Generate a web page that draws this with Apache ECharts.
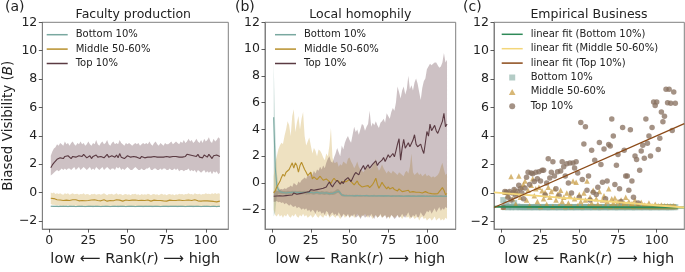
<!DOCTYPE html>
<html><head><meta charset="utf-8">
<script src="https://cdn.jsdelivr.net/npm/echarts@6.0.0/dist/echarts.min.js"></script>
<style>html,body{margin:0;padding:0;background:#fff}#c{width:685px;height:272px}</style>
</head><body><div id="c"></div>
<script>
const FONT = 'DejaVu Sans';
const xTicks = [0, 25, 50, 75, 100];
const yTicks = [-2, 0, 2, 4, 6, 8, 10, 12];
const panelTitles = ['Faculty production', 'Local homophily', 'Empirical Business'];
const panelTags = ['(a)', '(b)', '(c)'];
const groupLabels = ['Bottom 10%', 'Middle 50-60%', 'Top 10%'];
const fitLabels = ['linear fit (Bottom 10%)', 'linear fit (Middle 50-60%)', 'linear fit (Top 10%)'];

// ---------- Panel (a) Faculty production: ranks 1..109 ----------
const topMeanA = [1.75,1.95,2.1,2.2,2.35,2.3,2.45,2.5,2.4,2.55,
2.45,2.6,2.5,2.4,2.55,2.65,2.5,2.45,2.6,2.5,
2.55,2.7,2.6,2.45,2.5,2.6,2.4,2.55,2.5,2.65,
2.5,2.4,2.55,2.6,2.45,2.5,2.7,2.5,2.45,2.6,
2.55,2.5,2.65,2.45,2.75,2.5,2.55,2.4,2.5,2.6,
2.55,2.5,2.45,2.55,2.6,2.5,2.5,2.4,2.55,2.5,
2.45,2.55,2.5,2.6,2.5,2.45,2.55,2.6,2.5,2.45,
2.5,2.55,2.5,2.6,2.55,2.45,2.5,2.6,2.55,2.5,
2.55,2.6,2.5,2.55,2.5,2.6,2.55,2.7,2.75,2.65,
2.7,2.6,2.65,2.55,2.7,2.5,2.6,2.45,2.65,2.55,
2.5,2.7,2.55,2.4,2.6,2.5,2.65,2.6,2.55];
const topHiA = [2.6,2.9,3.1,3.2,3.4,3.3,3.5,3.4,3.3,3.6,
3.4,3.5,3.3,3.5,3.6,3.4,3.3,3.5,3.4,3.6,
3.4,3.5,3.3,3.4,3.6,3.4,3.3,3.5,3.4,3.7,
3.4,3.3,3.5,3.6,3.4,3.5,3.7,3.4,3.3,3.5,
3.6,3.4,3.5,3.4,3.7,3.5,3.4,3.3,3.5,3.4,
3.5,3.4,3.3,3.4,3.5,3.4,3.5,3.3,3.4,3.5,
3.4,3.5,3.4,3.6,3.4,3.3,3.5,3.6,3.4,3.3,
3.5,3.4,3.3,3.5,3.4,3.4,3.5,3.6,3.4,3.5,
3.6,3.5,3.4,3.6,3.5,3.7,3.5,3.6,3.8,3.6,
3.7,3.5,3.6,3.8,3.6,3.5,3.7,3.5,3.8,3.6,
3.7,3.9,3.6,3.5,3.8,3.6,3.7,3.9,3.8];
const topLoA = [1.2,1.3,1.4,1.5,1.6,1.5,1.6,1.7,1.6,1.7,
1.6,1.7,1.7,1.6,1.7,1.8,1.6,1.7,1.8,1.6,
1.7,1.8,1.7,1.6,1.7,1.8,1.6,1.7,1.6,1.8,
1.7,1.6,1.7,1.8,1.6,1.7,1.8,1.7,1.6,1.7,
1.7,1.6,1.8,1.7,1.8,1.6,1.7,1.6,1.7,1.8,
1.7,1.6,1.6,1.7,1.8,1.7,1.6,1.6,1.7,1.6,
1.6,1.7,1.7,1.8,1.6,1.6,1.7,1.7,1.6,1.6,
1.7,1.6,1.7,1.7,1.6,1.6,1.7,1.6,1.6,1.7,
1.6,1.7,1.5,1.6,1.6,1.5,1.6,1.6,1.7,1.5,
1.6,1.5,1.6,1.4,1.6,1.5,1.4,1.5,1.6,1.4,
1.5,1.4,1.5,1.3,1.5,1.4,1.5,1.3,1.4];
const midMeanA = [-0.4,-0.45,-0.42,-0.48,-0.5,-0.47,-0.52,-0.5,-0.55,-0.5,
-0.53,-0.48,-0.55,-0.52,-0.5,-0.56,-0.5,-0.54,-0.58,-0.52,
-0.55,-0.5,-0.57,-0.53,-0.55,-0.6,-0.52,-0.55,-0.5,-0.57,
-0.55,-0.52,-0.58,-0.55,-0.5,-0.56,-0.6,-0.53,-0.55,-0.52,
-0.57,-0.55,-0.5,-0.58,-0.53,-0.56,-0.6,-0.55,-0.52,-0.57,
-0.55,-0.6,-0.53,-0.56,-0.52,-0.58,-0.55,-0.6,-0.54,-0.57,
-0.55,-0.58,-0.52,-0.56,-0.6,-0.55,-0.53,-0.58,-0.56,-0.6,
-0.55,-0.52,-0.58,-0.55,-0.6,-0.56,-0.53,-0.57,-0.55,-0.6,
-0.56,-0.58,-0.52,-0.57,-0.55,-0.6,-0.54,-0.56,-0.52,-0.58,
-0.55,-0.6,-0.5,-0.56,-0.58,-0.53,-0.6,-0.55,-0.57,-0.52,
-0.58,-0.55,-0.6,-0.54,-0.62,-0.56,-0.65,-0.55,-0.6];
const midHiA = [0.0,-0.05,0.0,-0.1,-0.05,-0.1,-0.05,-0.12,-0.15,-0.05,
-0.1,-0.05,-0.15,-0.1,-0.05,-0.12,-0.1,-0.08,-0.15,-0.1,
-0.12,-0.05,-0.15,-0.1,-0.12,-0.18,-0.1,-0.12,-0.08,-0.15,
-0.12,-0.1,-0.15,-0.1,-0.05,-0.12,-0.18,-0.1,-0.12,-0.08,
-0.15,-0.12,-0.05,-0.15,-0.1,-0.12,-0.18,-0.12,-0.1,-0.15,
-0.12,-0.18,-0.1,-0.12,-0.08,-0.15,-0.12,-0.18,-0.1,-0.15,
-0.12,-0.15,-0.08,-0.12,-0.18,-0.12,-0.1,-0.15,-0.12,-0.18,
-0.12,-0.08,-0.15,-0.12,-0.18,-0.12,-0.1,-0.15,-0.12,-0.18,
-0.12,-0.15,-0.08,-0.12,-0.1,-0.15,-0.1,-0.12,-0.05,-0.12,
-0.1,-0.15,-0.05,-0.1,-0.12,-0.08,-0.15,-0.1,-0.12,-0.05,
-0.1,-0.08,-0.12,-0.05,-0.1,-0.02,-0.1,-0.05,-0.08];
const midLoA = [-0.8,-0.85,-0.85,-0.88,-0.9,-0.87,-0.92,-0.9,-0.95,-0.9,
-0.93,-0.88,-0.95,-0.92,-0.9,-0.96,-0.9,-0.94,-0.98,-0.92,
-0.95,-0.9,-0.97,-0.93,-0.95,-1.0,-0.92,-0.95,-0.9,-0.97,
-0.95,-0.92,-0.98,-0.95,-0.9,-0.96,-1.0,-0.93,-0.95,-0.92,
-0.97,-0.95,-0.9,-0.98,-0.93,-0.96,-1.0,-0.95,-0.92,-0.97,
-0.95,-1.0,-0.93,-0.96,-0.92,-0.98,-0.95,-1.0,-0.94,-0.97,
-0.95,-0.98,-0.92,-0.96,-1.0,-0.95,-0.93,-0.98,-0.96,-1.0,
-0.95,-0.92,-0.98,-0.95,-1.0,-0.96,-0.93,-0.97,-0.95,-1.0,
-0.96,-0.98,-0.92,-0.97,-0.95,-1.0,-0.94,-0.96,-0.92,-0.98,
-0.95,-1.0,-0.9,-0.96,-0.98,-0.93,-1.0,-0.95,-0.97,-0.92,
-0.98,-0.95,-1.0,-0.94,-1.02,-0.96,-1.05,-0.97,-1.0];
const botMeanA = [-0.96,-0.97,-0.97,-0.96,-0.97,-0.98,-0.97,-0.97,-0.96,-0.97,
-0.97,-0.98,-0.97,-0.96,-0.97,-0.97,-0.98,-0.97,-0.97,-0.96,
-0.97,-0.97,-0.98,-0.97,-0.96,-0.97,-0.97,-0.98,-0.97,-0.97,
-0.96,-0.97,-0.98,-0.97,-0.97,-0.96,-0.97,-0.97,-0.98,-0.97,
-0.97,-0.96,-0.97,-0.98,-0.97,-0.97,-0.96,-0.97,-0.98,-0.97,
-0.97,-0.97,-0.96,-0.97,-0.98,-0.97,-0.97,-0.96,-0.97,-0.98,
-0.97,-0.97,-0.96,-0.97,-0.97,-0.98,-0.97,-0.96,-0.97,-0.97,
-0.98,-0.97,-0.97,-0.96,-0.97,-0.98,-0.97,-0.97,-0.96,-0.97,
-0.97,-0.98,-0.97,-0.96,-0.97,-0.97,-0.98,-0.97,-0.97,-0.96,
-0.97,-0.98,-0.97,-0.97,-0.96,-0.97,-0.98,-0.97,-0.97,-0.96,
-0.97,-0.97,-0.98,-0.97,-0.96,-0.97,-0.98,-0.97,-0.97];
const botHiA = [-0.92,-0.93,-0.93,-0.92,-0.93,-0.94,-0.93,-0.92,-0.92,-0.93,
-0.93,-0.94,-0.93,-0.92,-0.93,-0.93,-0.94,-0.93,-0.92,-0.92,
-0.93,-0.93,-0.94,-0.93,-0.92,-0.93,-0.93,-0.94,-0.93,-0.93,
-0.92,-0.93,-0.94,-0.93,-0.93,-0.92,-0.93,-0.93,-0.94,-0.93,
-0.93,-0.92,-0.93,-0.94,-0.93,-0.93,-0.92,-0.93,-0.94,-0.93,
-0.93,-0.93,-0.92,-0.93,-0.94,-0.93,-0.93,-0.92,-0.93,-0.94,
-0.93,-0.93,-0.92,-0.93,-0.93,-0.94,-0.93,-0.92,-0.93,-0.93,
-0.94,-0.93,-0.93,-0.92,-0.93,-0.94,-0.93,-0.93,-0.92,-0.93,
-0.93,-0.94,-0.93,-0.92,-0.93,-0.93,-0.94,-0.93,-0.93,-0.92,
-0.93,-0.94,-0.93,-0.93,-0.92,-0.93,-0.94,-0.93,-0.93,-0.92,
-0.93,-0.93,-0.94,-0.93,-0.92,-0.93,-0.94,-0.93,-0.93];
const botLoA = [-1.01,-1.02,-1.02,-1.01,-1.02,-1.03,-1.02,-1.02,-1.01,-1.02,
-1.02,-1.03,-1.02,-1.01,-1.02,-1.02,-1.03,-1.02,-1.02,-1.01,
-1.02,-1.02,-1.03,-1.02,-1.01,-1.02,-1.02,-1.03,-1.02,-1.02,
-1.01,-1.02,-1.03,-1.02,-1.02,-1.01,-1.02,-1.02,-1.03,-1.02,
-1.02,-1.01,-1.02,-1.03,-1.02,-1.02,-1.01,-1.02,-1.03,-1.02,
-1.02,-1.02,-1.01,-1.02,-1.03,-1.02,-1.02,-1.01,-1.02,-1.03,
-1.02,-1.02,-1.01,-1.02,-1.02,-1.03,-1.02,-1.01,-1.02,-1.02,
-1.03,-1.02,-1.02,-1.01,-1.02,-1.03,-1.02,-1.02,-1.01,-1.02,
-1.02,-1.03,-1.02,-1.01,-1.02,-1.02,-1.03,-1.02,-1.02,-1.01,
-1.02,-1.03,-1.02,-1.02,-1.01,-1.02,-1.03,-1.02,-1.02,-1.01,
-1.02,-1.02,-1.03,-1.02,-1.01,-1.02,-1.03,-1.02,-1.02];

// ---------- Panel (b) Local homophily: ranks 1..113 ----------
const botMeanB = [4.9,1.2,-0.2,-0.5,-0.65,-0.7,-0.72,-0.7,-0.75,-0.7,
-0.72,-0.75,-0.7,-0.73,-0.7,-0.75,-0.72,-0.7,-0.74,-0.72,
-0.7,-0.75,-0.72,-0.74,-0.7,-0.73,-0.75,-0.72,-0.7,-0.74,
-0.76,-0.72,-0.75,-0.78,-0.74,-0.76,-0.8,-0.77,-0.78,-0.75,
-0.7,-0.6,-0.62,-0.75,-0.9,-0.93,-0.95,-0.94,-0.96,-0.95,
-0.96,-0.95,-0.97,-0.96,-0.95,-0.97,-0.96,-0.98,-0.96,-0.97,
-0.95,-0.97,-0.98,-0.96,-0.97,-0.95,-0.98,-0.97,-0.96,-0.98,
-0.97,-0.99,-0.97,-0.98,-0.96,-0.98,-0.99,-0.97,-0.98,-0.99,
-0.98,-0.97,-0.99,-0.98,-1.0,-0.98,-0.99,-0.97,-0.99,-1.0,
-0.98,-0.99,-1.0,-0.98,-0.99,-1.0,-0.99,-0.98,-1.0,-0.99,
-1.0,-0.99,-1.0,-0.98,-1.0,-0.99,-1.0,-1.0,-0.99,-1.0,
-1.0,-0.99,-1.0];
const botHiB = [9.0,4.2,0.8,-0.2,-0.5,-0.58,-0.6,-0.6,-0.62,-0.58,
-0.6,-0.62,-0.58,-0.6,-0.58,-0.62,-0.6,-0.58,-0.62,-0.6,
-0.58,-0.62,-0.6,-0.62,-0.58,-0.6,-0.62,-0.6,-0.58,-0.62,
-0.64,-0.6,-0.62,-0.66,-0.62,-0.64,-0.68,-0.65,-0.66,-0.62,
-0.55,-0.45,-0.48,-0.62,-0.8,-0.85,-0.88,-0.87,-0.9,-0.88,
-0.9,-0.88,-0.9,-0.89,-0.88,-0.9,-0.89,-0.92,-0.9,-0.9,
-0.88,-0.9,-0.92,-0.9,-0.9,-0.88,-0.92,-0.9,-0.9,-0.92,
-0.9,-0.93,-0.9,-0.92,-0.9,-0.92,-0.93,-0.9,-0.92,-0.93,
-0.92,-0.9,-0.93,-0.92,-0.94,-0.92,-0.93,-0.9,-0.93,-0.94,
-0.92,-0.93,-0.94,-0.92,-0.93,-0.94,-0.93,-0.92,-0.94,-0.93,
-0.94,-0.93,-0.94,-0.92,-0.94,-0.93,-0.94,-0.94,-0.93,-0.94,
-0.94,-0.93,-0.94];
const botLoB = [-2.5,-2.2,-1.0,-0.8,-0.8,-0.82,-0.84,-0.82,-0.88,-0.82,
-0.84,-0.88,-0.82,-0.86,-0.82,-0.88,-0.84,-0.82,-0.86,-0.84,
-0.82,-0.88,-0.84,-0.86,-0.82,-0.86,-0.88,-0.84,-0.82,-0.86,
-0.88,-0.84,-0.88,-0.9,-0.86,-0.88,-0.92,-0.89,-0.9,-0.88,
-0.85,-0.75,-0.76,-0.88,-1.0,-1.01,-1.02,-1.01,-1.02,-1.02,
-1.02,-1.02,-1.04,-1.03,-1.02,-1.04,-1.03,-1.04,-1.02,-1.04,
-1.02,-1.04,-1.04,-1.02,-1.04,-1.02,-1.04,-1.04,-1.02,-1.04,
-1.04,-1.05,-1.04,-1.04,-1.02,-1.04,-1.05,-1.04,-1.04,-1.05,
-1.04,-1.04,-1.05,-1.04,-1.06,-1.04,-1.05,-1.04,-1.05,-1.06,
-1.04,-1.05,-1.06,-1.04,-1.05,-1.06,-1.05,-1.04,-1.06,-1.05,
-1.06,-1.05,-1.06,-1.04,-1.06,-1.05,-1.06,-1.06,-1.05,-1.06,
-1.06,-1.05,-1.06];
const midMeanB = [-0.75,-0.6,-0.3,-0.1,0.1,0.4,0.65,0.5,0.8,0.7,
1.0,0.9,1.5,1.1,1.5,1.3,0.8,1.3,1.55,1.6,
1.0,0.8,0.55,0.6,0.8,0.3,0.45,0.4,0.25,0.3,
0.5,0.55,0.2,0.07,0.3,0.4,0.1,-0.05,0.2,0.35,
0.2,0.1,0.15,-0.05,0.0,0.1,0.05,0.1,0.2,0.25,
0.1,0.0,-0.15,0.0,0.15,-0.1,-0.2,-0.3,-0.4,-0.25,
-0.3,-0.2,-0.35,-0.25,-0.1,0.1,0.35,-0.1,-0.4,-0.2,
0.05,-0.15,-0.3,-0.45,-0.3,-0.45,-0.5,-0.35,-0.5,-0.55,
-0.6,-0.45,-0.55,-0.65,-0.7,-0.6,-0.5,-0.55,-0.7,-0.6,
-0.65,-0.75,-0.7,-0.6,-0.7,-0.68,-0.75,-0.7,-0.65,-0.72,
-0.75,-0.7,-0.8,-0.78,-0.82,-0.75,-0.8,-0.7,-0.5,-0.35,
-0.55,-0.87,-0.8];
const midHiB = [0.5,1.5,2.0,2.5,2.8,3.0,2.9,3.5,4.0,4.6,
4.3,3.5,5.0,5.5,3.8,4.5,5.0,4.0,4.8,5.3,
3.5,2.8,3.1,3.4,2.8,2.2,2.6,2.4,2.0,2.5,
2.4,2.2,1.9,1.7,2.2,2.0,2.8,4.1,1.9,1.5,
1.5,1.6,1.2,1.4,1.3,1.6,1.5,1.4,1.8,1.9,
1.6,1.4,1.1,1.3,1.6,1.2,1.0,0.9,0.8,1.0,
1.1,1.2,1.0,1.1,1.3,1.5,1.8,1.2,0.9,1.1,
1.4,1.1,0.9,0.7,0.9,0.8,0.7,0.9,0.8,0.7,
0.6,0.8,0.7,0.6,0.5,0.8,0.9,0.7,1.2,2.2,
0.8,0.6,0.7,0.8,0.6,0.7,0.5,0.6,0.7,0.5,
0.6,0.5,0.4,0.5,0.4,0.5,0.6,0.8,1.2,1.5,
1.0,0.6,0.7];
const midLoB = [-2.0,-2.4,-2.5,-2.3,-2.5,-2.4,-2.6,-2.4,-2.5,-2.3,
-2.5,-2.6,-2.4,-2.5,-2.3,-2.5,-2.6,-2.4,-2.5,-2.3,
-2.5,-2.4,-2.6,-2.5,-2.4,-2.6,-2.5,-2.3,-2.5,-2.6,
-2.4,-2.5,-2.6,-2.4,-2.5,-2.3,-2.6,-2.5,-2.4,-2.5,
-2.6,-2.4,-2.5,-2.7,-2.5,-2.4,-2.6,-2.5,-2.4,-2.6,
-2.5,-2.4,-2.6,-2.5,-2.3,-2.5,-2.6,-2.4,-2.5,-2.3,
-2.5,-2.6,-2.4,-2.5,-2.7,-2.5,-2.4,-2.6,-2.5,-2.4,
-2.6,-2.5,-2.4,-2.6,-2.5,-2.7,-2.4,-2.5,-2.6,-2.5,
-2.4,-2.6,-2.5,-2.7,-2.5,-2.4,-2.6,-2.5,-2.7,-2.6,
-2.5,-2.7,-2.6,-2.5,-2.8,-2.6,-2.5,-2.7,-2.6,-2.8,
-2.7,-2.6,-2.8,-2.7,-2.5,-2.8,-2.7,-2.6,-2.8,-2.7,
-2.8,-2.6,-2.7];
const topMeanB = [-1.0,-1.0,-0.98,-1.0,-0.97,-0.95,-0.98,-0.93,-0.95,-0.9,
-0.92,-0.85,-0.9,-0.75,-0.8,-0.85,-0.75,-0.8,-0.7,-0.75,
-0.65,-0.7,-0.6,-0.65,-0.5,-0.6,-0.55,-0.65,-0.5,-0.6,
-0.45,-0.55,-0.4,-0.45,-0.3,-0.1,0.07,-0.15,-0.3,-0.1,
0.0,0.2,0.05,-0.1,0.1,-0.05,0.2,0.3,0.4,0.25,
0.1,0.35,0.6,0.78,0.8,0.6,0.9,1.1,1.3,1.0,
1.2,1.35,1.1,1.06,1.4,1.5,1.65,1.3,1.5,1.55,
1.7,1.9,1.6,1.85,2.1,1.9,2.0,2.2,1.95,2.4,
2.9,3.3,1.7,2.6,3.25,2.6,2.8,3.0,2.7,2.66,
3.2,3.6,2.9,2.7,2.8,2.9,2.5,2.2,3.0,3.84,
3.5,4.4,3.9,3.95,4.3,3.9,3.7,4.0,4.1,4.6,
5.2,4.2,4.4];
const topHiB = [-0.6,-0.6,-0.55,-0.6,-0.5,-0.45,-0.5,-0.4,-0.45,-0.35,
-0.3,-0.2,-0.3,0.0,-0.1,-0.2,0.1,0.0,0.2,0.3,
0.4,0.3,0.6,0.5,0.8,0.6,0.9,0.7,1.0,0.9,
1.2,1.0,1.3,1.1,1.5,1.8,2.0,1.6,1.5,1.9,
2.2,2.6,2.3,2.0,2.8,2.5,3.0,3.3,3.5,3.2,
3.0,3.6,4.2,3.8,4.0,3.6,4.0,4.4,4.3,3.9,
4.2,4.4,5.4,4.2,4.5,4.3,4.6,4.3,4.1,4.5,
4.6,4.8,4.5,5.2,5.0,4.8,5.3,5.6,5.4,6.0,
7.2,6.8,6.3,6.9,7.2,6.6,7.0,8.0,7.0,7.3,
6.9,7.5,7.8,7.4,6.8,6.2,7.1,7.6,7.8,8.5,
8.7,8.9,8.8,8.9,9.0,9.0,8.8,8.6,8.7,9.0,
9.7,9.0,9.2];
const topLoB = [-1.4,-1.4,-1.35,-1.45,-1.4,-1.5,-1.45,-1.6,-1.5,-1.6,
-1.7,-1.6,-1.75,-1.8,-1.7,-1.9,-1.8,-1.85,-2.0,-1.9,
-2.0,-1.9,-2.1,-2.0,-2.2,-2.0,-2.1,-2.3,-2.0,-2.2,
-2.1,-2.3,-2.2,-2.4,-2.1,-2.2,-2.5,-2.3,-2.2,-2.4,
-2.3,-2.5,-2.2,-2.4,-2.6,-2.3,-2.4,-2.5,-2.3,-2.6,
-2.4,-2.5,-2.3,-2.6,-2.5,-2.4,-2.7,-2.5,-2.4,-2.6,
-2.5,-2.4,-2.6,-2.3,-2.5,-2.7,-2.4,-2.6,-2.5,-2.3,
-2.6,-2.5,-2.4,-2.7,-2.5,-2.6,-2.4,-2.5,-2.7,-2.6,
-2.4,-2.6,-2.5,-2.3,-2.5,-2.6,-2.4,-2.2,-2.5,-2.6,
-2.4,-2.5,-2.3,-2.6,-2.5,-2.2,-2.4,-2.5,-2.3,-2.1,
-2.2,-2.0,-2.3,-2.1,-1.9,-2.2,-2.0,-1.8,-2.1,-1.9,
-2.0,-1.8,-1.9];

// ---------- Panel (c) Empirical Business: ranks 1..112 ----------
const botPtsC = [-0.5,-1.0,-0.75,-1.0,-0.95,-1.0,-1.0,-0.7,-1.0,-0.95,
-1.0,-1.0,-0.98,-1.0,-1.0,-1.0,-0.98,-1.0,-1.0,-1.0,
-1.0,-0.98,-1.0,-1.0,-1.0,-1.0,-0.98,-1.0,-1.0,-1.0,
-1.0,-1.0,-0.98,-1.0,-1.0,-1.0,-1.0,-0.98,-1.0,-1.0,
-1.0,-1.0,-1.0,-0.98,-1.0,-1.0,-1.0,-1.0,-0.98,-1.0,
-1.0,-1.0,-1.0,-1.0,-0.98,-1.0,-1.0,-1.0,-1.0,-0.98,
-1.0,-1.0,-1.0,-1.0,-1.0,-0.98,-1.0,-1.0,-1.0,-1.0,
-0.98,-1.0,-1.0,-1.0,-1.0,-1.0,-0.98,-1.0,-1.0,-1.0,
-1.0,-0.98,-1.0,-1.0,-1.0,-1.0,-1.0,-0.98,-1.0,-1.0,
-1.0,-1.0,-0.98,-1.0,-1.0,-1.0,-1.0,-1.0,-0.98,-1.0,
-1.0,-1.0,-1.0,-0.98,-1.0,-1.0,-1.0,-1.0,-1.0,-0.98,
-1.0,-1.0];
const midPtsC = [-1.0,0.05,0.1,-0.2,0.05,1.15,-0.4,0.2,-0.8,0.0,
1.2,-0.3,0.4,0.6,0.85,-0.5,0.2,-0.9,0.55,1.0,
-0.2,0.3,-0.6,0.4,-0.95,0.15,-0.4,0.05,-0.8,0.4,
-0.3,0.1,-0.95,0.3,-0.5,-0.1,-0.9,0.2,-0.6,-0.3,
-0.95,0.0,-0.7,-0.2,-0.95,0.85,-0.4,0.75,-0.9,-0.1,
-0.6,-0.95,0.0,-0.5,0.85,-0.9,-0.3,-0.7,0.2,-0.95,
-0.4,-0.8,0.1,-0.95,-0.5,-0.2,-0.9,-0.6,0.3,-0.95,
-0.4,-0.7,-0.35,-0.95,-0.6,-0.9,-0.5,-0.95,-0.7,-0.3,
-0.95,-0.6,-0.9,-0.75,-0.95,-0.5,-0.9,-0.8,-0.95,-0.65,
-0.95,-0.85,-0.9,-0.95,-0.7,-0.95,-0.9,-0.95,-0.8,-0.95,
-0.9,-0.95,-0.85,-0.95,-0.9,-0.95,-0.9,-0.95,-0.92,-0.95,
-0.9,-0.95];
const topPtsC = [-1.0,0.1,0.05,-0.3,0.1,-0.5,0.0,0.25,-0.2,0.1,
0.55,0.3,0.0,-0.4,0.35,1.1,1.45,0.6,1.4,1.35,
0.8,1.45,1.0,1.5,0.85,1.6,1.6,-0.15,0.7,2.4,
1.05,1.45,2.2,1.2,0.3,1.5,-0.2,1.55,2.2,1.85,
1.2,2.05,0.7,2.1,0.0,2.1,1.75,2.2,1.4,-0.3,
4.95,0.95,3.45,4.65,0.2,1.2,-0.5,3.0,0.05,2.3,
-0.1,0.4,3.55,2.0,0.75,3.1,-0.4,0.85,3.4,3.3,
5.2,4.0,0.6,1.95,2.7,0.3,-0.6,4.6,3.0,1.2,
1.2,0.2,4.45,0.85,-0.3,2.6,2.35,-0.7,1.6,2.95,
3.35,2.45,5.2,3.5,4.0,2.6,4.6,6.4,6.15,6.4,
3.05,3.85,5.7,5.0,5.4,7.3,6.35,7.3,6.3,4.4,
7.1,6.3];
const fitBotC = [[-5, -0.96], [117.8, -1.03]];
const fitMidC = [[-5, 0.04], [117.8, -1.02]];
const fitTopC = [[-5, -1.02], [117.8, 4.88]];

// ---------- helpers ----------
const rank = n => Array.from({length: n}, (_, i) => i + 1);
const pairs = (ys) => ys.map((y, i) => [i + 1, y]);

const C = {
  top: '#5a3a42', mid: '#b8902c', bot: '#79a8a0',
  topBand: 'rgba(90,50,58,0.3)', midBand: 'rgba(200,155,50,0.3)', botBand: 'rgba(110,160,150,0.35)',
  fitBot: '#2f8a58', fitMid: '#f3d67a', fitTop: '#8b4a18',
  sBot: 'rgba(130,170,160,0.75)', sMid: 'rgba(200,155,65,0.9)', sTop: 'rgba(135,112,95,0.95)'
};

function band(idx, lo, hi, color) {
  const xs = rank(lo.length);
  return {
    type: 'custom', xAxisIndex: idx, yAxisIndex: idx, silent: true, z: 1, clip: true,
    data: xs.map((x, i) => [x, lo[i], hi[i]]),
    renderItem: (params, api) => {
      if (params.dataIndex !== 0) return null;
      const pts = [];
      for (let i = 0; i < xs.length; i++) pts.push(api.coord([xs[i], hi[i]]));
      for (let i = xs.length - 1; i >= 0; i--) pts.push(api.coord([xs[i], lo[i]]));
      return { type: 'polygon', shape: { points: pts }, style: { fill: color, stroke: null } };
    }
  };
}
function line(idx, name, ys, color, w) {
  return { type: 'line', name, xAxisIndex: idx, yAxisIndex: idx, data: pairs(ys),
    symbol: 'none', showSymbol: false, z: 3, lineStyle: { color, width: w || 1.1 }, itemStyle: { color } };
}
function fit(idx, name, pts, color, w) {
  return { type: 'line', name, xAxisIndex: idx, yAxisIndex: idx, data: pts,
    symbol: 'none', showSymbol: false, z: 5, lineStyle: { color, width: w }, itemStyle: { color } };
}
function scat(idx, name, ys, color, sym, size) {
  return { type: 'scatter', name, xAxisIndex: idx, yAxisIndex: idx, data: pairs(ys),
    symbol: sym, symbolSize: size, z: 4, itemStyle: { color } };
}

const names = {
  a_bot: groupLabels[0], a_mid: groupLabels[1], a_top: groupLabels[2],
  b_bot: groupLabels[0], b_mid: groupLabels[1], b_top: groupLabels[2],
  c_fbot: fitLabels[0], c_fmid: fitLabels[1], c_ftop: fitLabels[2],
  c_sbot: groupLabels[0], c_smid: groupLabels[1], c_stop: groupLabels[2]
};

const grids = [
  { left: 38.3, top: 22.3, width: 190, height: 219 },
  { left: 265, top: 22.3, width: 190.7, height: 217.7 },
  { left: 494, top: 22.3, width: 190.3, height: 217.7 }
];
const xRanges = [[-4.4, 114.4], [-4.6, 118.6], [-5.0, 117.8]];
const yRanges = [[-2.57, 12], [-3.45, 12], [-2.54, 12]];

const xAxes = grids.map((g, i) => ({
  type: 'value', gridIndex: i, min: xRanges[i][0], max: xRanges[i][1],
  axisLine: { show: true, onZero: false, lineStyle: { color: '#808080', width: 1 } },
  axisTick: { show: true, length: 3.5, customValues: xTicks, lineStyle: { color: '#333', width: 0.8 } },
  axisLabel: { customValues: xTicks, margin: 5, fontFamily: FONT, fontSize: 12.5, color: '#222' },
  splitLine: { show: false },
  name: '{n|low \u27F5 Rank(}{i|r}{n|) \u27F6 high}', nameLocation: 'middle', nameGap: 15,
  nameTextStyle: { rich: {
    n: { fontFamily: FONT, fontSize: 14.5, color: '#222' },
    i: { fontFamily: FONT, fontSize: 14.5, fontStyle: 'italic', color: '#222' } } }
}));
const yAxes = grids.map((g, i) => ({
  type: 'value', gridIndex: i, min: yRanges[i][0], max: yRanges[i][1],
  axisLine: { show: true, onZero: false, lineStyle: { color: '#808080', width: 1 } },
  axisTick: { show: true, length: 3.5, customValues: yTicks, lineStyle: { color: '#333', width: 0.8 } },
  axisLabel: { customValues: yTicks, margin: 5, fontFamily: FONT, fontSize: 12.5, color: '#222',
    formatter: v => String(v).replace('-', '\u2212') },
  splitLine: { show: false },
  name: i === 0 ? '{n|Biased Visibility (}{i|B}{n|)}' : '',
  nameLocation: 'middle', nameGap: 20,
  nameTextStyle: { rich: {
    n: { fontFamily: FONT, fontSize: 13.5, color: '#222' },
    i: { fontFamily: FONT, fontSize: 13.5, fontStyle: 'italic', color: '#222' } } }
}));

const legendBase = {
  orient: 'vertical', padding: 0, itemWidth: 21, itemHeight: 6, itemGap: 2.4,
  formatter: n => names[n], selectedMode: false,
  textStyle: { fontFamily: FONT, fontSize: 10, color: '#222', lineHeight: 12, padding: [0, 0, 0, 3] }
};
const lineIcon = 'path://M0,0L42,0L42,3L0,3Z';
const sqIcon = 'path://M0,0L10,0L10,10L0,10Z';
const triIcon = 'path://M5,0L10,9L0,9Z';
const li = n => ({ name: n, icon: lineIcon });

const option = {
  animation: false,
  backgroundColor: '#fff',
  grid: grids.map(g => Object.assign({ show: true, borderColor: '#808080', borderWidth: 1, backgroundColor: 'transparent' }, g)),
  xAxis: xAxes,
  yAxis: yAxes,
  legend: [
    Object.assign({}, legendBase, { left: 46.7, top: 28.7, data: [li('a_bot'), li('a_mid'), li('a_top')] }),
    Object.assign({}, legendBase, { left: 275, top: 28.7, data: [li('b_bot'), li('b_mid'), li('b_top')] }),
    Object.assign({}, legendBase, { left: 501.7, top: 28.3, data: [li('c_fbot'), li('c_fmid'), li('c_ftop'),
      { name: 'c_sbot', icon: sqIcon }, { name: 'c_smid', icon: triIcon }, { name: 'c_stop', icon: 'circle' }] })
  ],
  graphic: [
    ...panelTags.map((t, i) => ({ type: 'text', left: [5, 235, 463][i], top: 0,
      style: { text: t, font: '14px "DejaVu Sans"', fill: '#222' } })),
    ...panelTitles.map((t, i) => ({ type: 'text', x: [133.3, 360.3, 589][i], y: 15,
      style: { text: t, font: '12.5px "DejaVu Sans"', fill: '#222', textAlign: 'center', textVerticalAlign: 'middle' } }))
  ],
  series: [
    band(0, botLoA, botHiA, C.botBand), band(0, midLoA, midHiA, C.midBand), band(0, topLoA, topHiA, C.topBand),
    line(0, 'a_bot', botMeanA, C.bot), line(0, 'a_mid', midMeanA, C.mid), line(0, 'a_top', topMeanA, C.top),
    band(1, botLoB, botHiB, C.botBand), band(1, midLoB, midHiB, C.midBand), band(1, topLoB, topHiB, C.topBand),
    line(1, 'b_bot', botMeanB, C.bot), line(1, 'b_mid', midMeanB, C.mid), line(1, 'b_top', topMeanB, C.top),
    fit(2, 'c_fbot', fitBotC, C.fitBot, 2), fit(2, 'c_fmid', fitMidC, C.fitMid, 1.8), fit(2, 'c_ftop', fitTopC, C.fitTop, 1.3),
    scat(2, 'c_sbot', botPtsC, C.sBot, 'rect', 6), scat(2, 'c_smid', midPtsC, C.sMid, 'triangle', 5.5), scat(2, 'c_stop', topPtsC, C.sTop, 'circle', 5.5)
  ]
};
const chart = echarts.init(document.getElementById('c'), null, { renderer: 'canvas' });
chart.setOption(option);
</script></body></html>
